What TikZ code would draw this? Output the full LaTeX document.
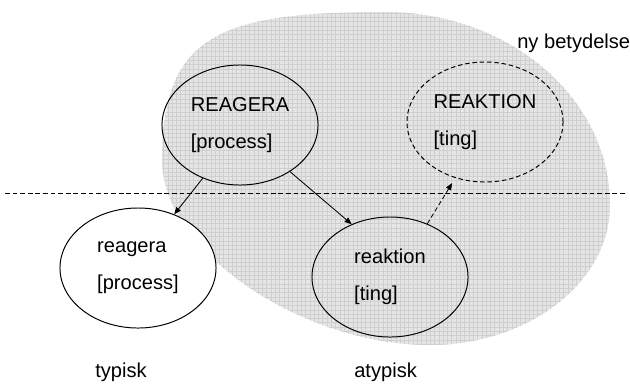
\documentclass[tikz,border=0pt]{standalone}
\usepackage{fontspec}
\setmainfont{Liberation Sans}
\usetikzlibrary{arrows.meta,shapes.geometric,positioning}

\begin{document}
\begin{tikzpicture}[
    % 1 unidad = 1 px del lienzo, eje y hacia abajo
    x=0.025cm, y=-0.025cm,
    font=\fontsize{14.3}{26.5}\selectfont,
    % Estilos
    concept/.style={draw, ellipse, line width=0.7pt, minimum width=3.9cm, minimum height=3cm, inner sep=0pt, align=left},
    newconcept/.style={concept, dash pattern=on 3.2pt off 2pt},
    arr/.style={-{Triangle[length=5pt,width=4pt]}, line width=0.6pt},
    darr/.style={arr, dash pattern=on 3.2pt off 2pt},
    sep/.style={line width=0.6pt, dash pattern=on 3.4pt off 2pt},
    lbl/.style={anchor=west, inner sep=0pt}
]
\useasboundingbox (0,0) rectangle (630,384);

% --- ZONA GRIS (nuevo significado) ---
\begin{scope}
  \clip (385,12) .. controls (509,12) and (610,98) .. (610,205)
                 .. controls (610,282) and (529,345) .. (430,345)
                 .. controls (300,345) and (162,250) .. (162,160)
                 .. controls (162,35) and (220,12) .. cycle;
  \fill[black!10] (140,0) rectangle (630,360);
  \draw[black!19, line width=0.25pt, step=0.1075cm] (140,0) grid (630,360);
\end{scope}

% --- LINEA DIVISORIA ---
\coordinate (sepL) at (5,193);
\coordinate (sepR) at (625,193);
\draw[sep] (sepL) -- (sepR);

% --- NODOS ---
\node[concept]             (procUp)  at (240,125) {REAGERA\\{}[process]};
\node[newconcept]          (tingUp)  at (485,122) {REAKTION\\{}[ting]};
\node[concept, fill=white] (procLow) at (138,268) {reagera\\{}[process]};
\node[concept]             (tingLow) at (390,277) {reaktion\\{}[ting]};

% --- FLECHAS ---
\draw[arr] (procUp.235) -- (procLow.56);
\draw[arr] (procUp.317) -- (tingLow.126);
\draw[darr, shorten >=4.2pt] (tingLow.55) -- (tingUp.242);

% --- ETIQUETAS ---
\node[lbl] (nyLbl)  at (517,43)  {ny betydelse};
\node[lbl] (typLbl) at (95,372)  {typisk};
\node[lbl] (atyLbl) at (354,372) {atypisk};

\end{tikzpicture}
\end{document}
